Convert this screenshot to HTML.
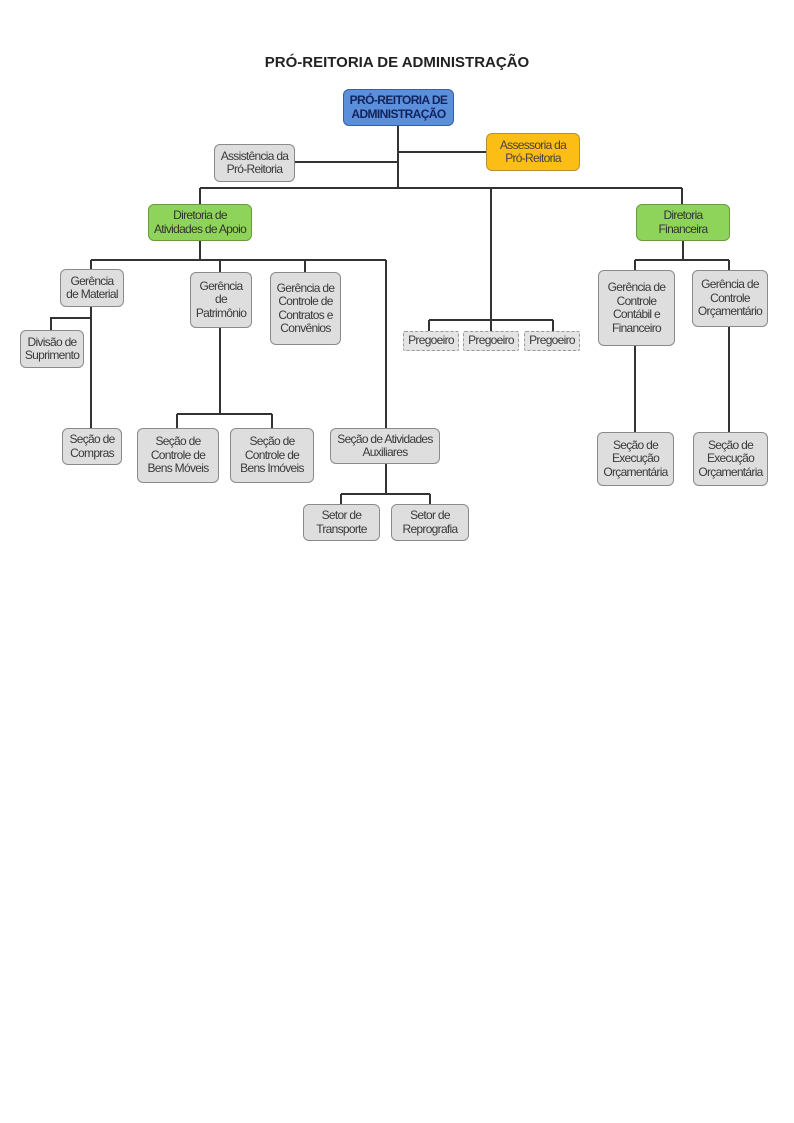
<!DOCTYPE html>
<html><head><meta charset="utf-8"><style>
html,body{margin:0;padding:0;background:#fff}
body{width:794px;height:1123px;position:relative;overflow:hidden;font-family:"Liberation Sans",sans-serif}
.t{position:absolute;left:0;width:794px;top:54px;text-align:center;font-weight:bold;font-size:15px;color:#222}
.b{position:absolute;box-sizing:border-box;border:1.5px solid #8a8a8a;border-radius:6px;background:#dedede;color:#3a3a3a;font-size:12px;letter-spacing:-0.7px;line-height:13.5px;display:flex;align-items:center;justify-content:center;text-align:center}
.g{background:#8fd45a;border-color:#6a9a40;color:#333}
.o{background:#fcbd14;border-color:#b89030;color:#444}
.r{background:#5b8fdc;border-color:#3a5f9a;color:#13235a;font-weight:bold;letter-spacing:-0.6px}
.d{border:1.5px dashed #999;border-radius:2px;background:#e4e4e4}
svg{position:absolute;left:0;top:0}
</style></head><body>
<div class="t">PRÓ-REITORIA DE ADMINISTRAÇÃO</div>
<svg width="794" height="1123"><g stroke="#333" stroke-width="2" fill="none">
<path d="M398 126V188M295 162H398M398 152H486M200 188H682M200 188V204M682 188V204M491 188V320"/>
<path d="M200 241V260M91 260H386M91 260V269M220 260V272M305 260V272M386 260V428"/>
<path d="M91 307V428M91 318H51V330M220 328V414M177 414H272M177 414V428M272 414V428"/>
<path d="M386 464V494M341 494H430M341 494V504M430 494V504"/>
<path d="M429 320H553M429 320V331M491 320V331M553 320V331"/>
<path d="M683 241V260M635 260H729M635 260V270M729 260V270M635 346V432M729 327V432"/>
</g></svg>
<div class="b r" style="left:343px;top:89px;width:111px;height:37px">PRÓ-REITORIA DE<br>ADMINISTRAÇÃO</div>
<div class="b" style="left:214px;top:144px;width:81px;height:38px">Assistência da<br>Pró-Reitoria</div>
<div class="b o" style="left:486px;top:133px;width:94px;height:38px">Assessoria da<br>Pró-Reitoria</div>
<div class="b g" style="left:148px;top:204px;width:104px;height:37px">Diretoria de<br>Atividades de Apoio</div>
<div class="b g" style="left:636px;top:204px;width:94px;height:37px">Diretoria<br>Financeira</div>
<div class="b" style="left:60px;top:269px;width:64px;height:38px">Gerência<br>de Material</div>
<div class="b" style="left:190px;top:272px;width:62px;height:56px">Gerência<br>de<br>Patrimônio</div>
<div class="b" style="left:270px;top:272px;width:71px;height:73px">Gerência de<br>Controle de<br>Contratos e<br>Convênios</div>
<div class="b" style="left:20px;top:330px;width:64px;height:38px">Divisão de<br>Suprimento</div>
<div class="b" style="left:62px;top:428px;width:60px;height:37px">Seção de<br>Compras</div>
<div class="b" style="left:137px;top:428px;width:82px;height:55px">Seção de<br>Controle de<br>Bens Móveis</div>
<div class="b" style="left:230px;top:428px;width:84px;height:55px">Seção de<br>Controle de<br>Bens Imóveis</div>
<div class="b" style="left:330px;top:428px;width:110px;height:36px">Seção de Atividades<br>Auxiliares</div>
<div class="b" style="left:303px;top:504px;width:77px;height:37px">Setor de<br>Transporte</div>
<div class="b" style="left:391px;top:504px;width:78px;height:37px">Setor de<br>Reprografia</div>
<div class="b d" style="left:403px;top:331px;width:56px;height:20px">Pregoeiro</div>
<div class="b d" style="left:463px;top:331px;width:56px;height:20px">Pregoeiro</div>
<div class="b d" style="left:524px;top:331px;width:56px;height:20px">Pregoeiro</div>
<div class="b" style="left:598px;top:270px;width:77px;height:76px">Gerência de<br>Controle<br>Contábil e<br>Financeiro</div>
<div class="b" style="left:692px;top:270px;width:76px;height:57px">Gerência de<br>Controle<br>Orçamentário</div>
<div class="b" style="left:597px;top:432px;width:77px;height:54px">Seção de<br>Execução<br>Orçamentária</div>
<div class="b" style="left:693px;top:432px;width:75px;height:54px">Seção de<br>Execução<br>Orçamentária</div>
</body></html>
